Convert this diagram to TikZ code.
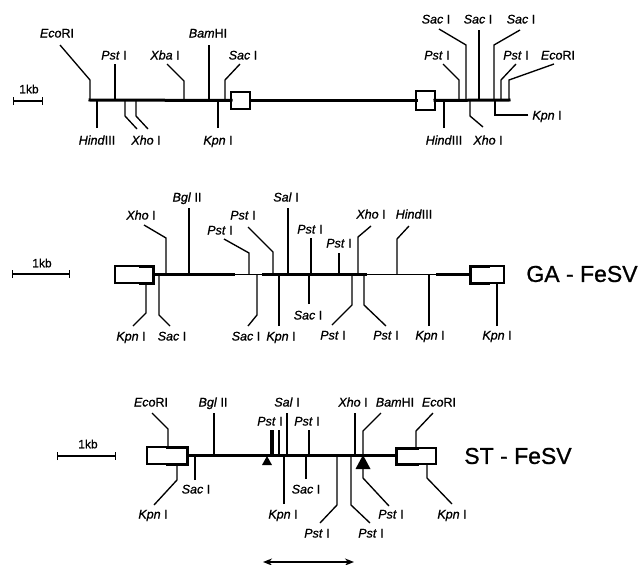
\documentclass[tikz,border=0pt]{standalone}
\usepackage{fontspec}
\setmainfont[FakeBold=0.9]{Liberation Sans}
\usepackage{tikz}
\usetikzlibrary{arrows.meta}

\begin{document}
\begin{tikzpicture}[
    x=1pt,y=-1pt,
    enzyme/.style={inner sep=0pt,outer sep=0pt,text height=9pt,text depth=0pt,font=\fontsize{12.5}{14}\selectfont},
    strain/.style={inner sep=0pt,outer sep=0pt,font=\fontsize{23}{26}\selectfont},
    kbtext/.style={inner sep=0pt,outer sep=0pt,font=\fontsize{12}{14}\selectfont},
    site/.style={line width=1.35pt,line join=miter},
    backbone/.style={line width=3pt,line cap=rect},
    thinbone/.style={line width=1.4pt},
    ltrbox/.style={rectangle,draw,line width=1.5pt,fill=white,inner sep=0pt,outer sep=0pt},
    scalebar/.style={{Bar[width=8pt,line width=1.2pt]}-{Bar[width=8pt,line width=1.2pt]},line width=1.3pt},
    spanarrow/.style={{Stealth[length=9pt,width=7pt]}-{Stealth[length=9pt,width=7pt]},line width=1.8pt}
]
\useasboundingbox (0,0) rectangle (641,565);

% first map
\coordinate (bbA) at (90,100);
\coordinate (endA) at (509,100);
\node[ltrbox,minimum width=19pt,minimum height=17pt] (boxA) at (240.5,100.5) {};
\node[ltrbox,minimum width=19pt,minimum height=19pt] (boxB) at (425.5,100.5) {};
\draw[backbone] (bbA) -- (boxA);
\draw[backbone] (boxA) -- (boxB);
\draw[backbone] (boxB) -- (endA);

\node[kbtext] (kbA) at (29,89) {1kb};
\coordinate (scaleAl) at (13,101);
\coordinate (scaleAr) at (43,101);
\draw[scalebar] (scaleAl) -- (scaleAr);

\node[enzyme] (ecoA) at (57,33) {\textit{Eco}RI};
\node[enzyme] (pstA) at (114,55) {\textit{Pst} I};
\node[enzyme] (xbaA) at (165,55) {\textit{Xba} I};
\node[enzyme] (bamA) at (208,33) {\textit{Bam}HI};
\node[enzyme] (sacA) at (243,55) {\textit{Sac} I};
\node[enzyme] (hinA) at (97,140) {\textit{Hind}III};
\node[enzyme] (xhoA) at (146,140) {\textit{Xho} I};
\node[enzyme] (kpnA) at (218,140) {\textit{Kpn} I};
\node[enzyme] (sacB) at (436,19) {\textit{Sac} I};
\node[enzyme] (sacC) at (478,19) {\textit{Sac} I};
\node[enzyme] (sacD) at (521,19) {\textit{Sac} I};
\node[enzyme] (pstB) at (437,55) {\textit{Pst} I};
\node[enzyme] (pstC) at (516,55) {\textit{Pst} I};
\node[enzyme] (ecoB) at (558,55) {\textit{Eco}RI};
\node[enzyme] (hinB) at (444,140) {\textit{Hind}III};
\node[enzyme] (xhoB) at (488,140) {\textit{Xho} I};
\node[enzyme] (kpnB) at (547,115) {\textit{Kpn} I};

\draw[site] ([shift={(3,7.5)}]ecoA.south) -- (90,80) -- (90,0 |- bbA);
\draw[site] ([shift={(1,4.5)}]pstA.south) -- (115,0 |- bbA);
\draw[site] ([shift={(2,4.5)}]xbaA.south) -- (184,81) -- (184,0 |- bbA);
\draw[site] ([shift={(1,7.5)}]bamA.south) -- (209,0 |- bbA);
\draw[site] ([shift={(-3,4.5)}]sacA.south) -- (225,80) -- (225,0 |- bbA);
\draw[site] ([shift={(0,-7.5)}]hinA.north) -- (97,0 |- bbA);
\draw[site] ([shift={(-9,-6.5)}]xhoA.north) -- (125,116) -- (125,0 |- bbA);
\draw[site] ([shift={(2,-6.5)}]xhoA.north) -- (136,116) -- (136,0 |- bbA);
\draw[site] ([shift={(0,-7.5)}]kpnA.north) -- (218,0 |- bbA);
\draw[site] ([shift={(3,5.5)}]sacB.south) -- (466,45) -- (466,0 |- bbA);
\draw[site] ([shift={(1,6.5)}]sacC.south) -- (479,0 |- bbA);
\draw[site] ([shift={(-1,6.5)}]sacD.south) -- (494,45) -- (494,0 |- bbA);
\draw[site] ([shift={(6,4.5)}]pstB.south) -- (459,80) -- (459,0 |- bbA);
\draw[site] ([shift={(0,4.5)}]pstC.south) -- (501,80) -- (501,0 |- bbA);
\draw[site] ([shift={(-4,4.5)}]ecoB.south) -- (509,80) -- (509,0 |- bbA);
\draw[site] ([shift={(0,-7.5)}]hinB.north) -- (444,0 |- bbA);
\draw[site] ([shift={(-5,-8.5)}]xhoB.north) -- (470,116) -- (470,0 |- bbA);
\draw[site] ([shift={(-4,0)}]kpnB.west) -- (495,115) -- (495,0 |- bbA);

% second map
\coordinate (bbB) at (0,274);
\node[ltrbox,minimum width=38pt,minimum height=17pt] (boxC) at (134,274.5) {};
\node[ltrbox,minimum width=34pt,minimum height=17pt] (boxD) at (487,274.5) {};
\draw[thinbone] (boxC.east) -- (boxD.west);
\draw[backbone] (boxC.east) -- (233,0 |- boxC.east);
\draw[backbone] (263,0 |- boxC.east) -- (365,0 |- boxC.east);
\draw[backbone] (437,0 |- boxD.west) -- (boxD.west);
\draw[backbone] ([xshift=-13pt]boxC.north east) -- (boxC.north east) -- (boxC.south east) -- ([xshift=-13pt]boxC.south east);
\draw[backbone] ([xshift=18pt]boxD.north west) -- (boxD.north west) -- (boxD.south west) -- ([xshift=18pt]boxD.south west);

\node[kbtext] (kbB) at (42,263) {1kb};
\coordinate (scaleBl) at (12,274);
\coordinate (scaleBr) at (70,274);
\draw[scalebar] (scaleBl) -- (scaleBr);
\node[strain] (fesvA) at (582,274) {GA - FeSV};

\node[enzyme] (xhoC) at (141,215) {\textit{Xho} I};
\node[enzyme] (bglA) at (187,197) {\textit{Bgl} II};
\node[enzyme] (pstD) at (243,215) {\textit{Pst} I};
\node[enzyme] (pstE) at (220,230) {\textit{Pst} I};
\node[enzyme] (salA) at (286,197) {\textit{Sal} I};
\node[enzyme] (pstF) at (310,229) {\textit{Pst} I};
\node[enzyme] (xhoD) at (371,214) {\textit{Xho} I};
\node[enzyme] (hinC) at (414,214) {\textit{Hind}III};
\node[enzyme] (pstG) at (339,243) {\textit{Pst} I};
\node[enzyme] (kpnC) at (131,336) {\textit{Kpn} I};
\node[enzyme] (sacE) at (172,336) {\textit{Sac} I};
\node[enzyme] (sacF) at (246,336) {\textit{Sac} I};
\node[enzyme] (kpnD) at (281,336) {\textit{Kpn} I};
\node[enzyme] (sacG) at (308,315) {\textit{Sac} I};
\node[enzyme] (pstH) at (333,335) {\textit{Pst} I};
\node[enzyme] (pstJ) at (386,335) {\textit{Pst} I};
\node[enzyme] (kpnE) at (430,335) {\textit{Kpn} I};
\node[enzyme] (kpnF) at (497,335) {\textit{Kpn} I};

\draw[site] ([shift={(3,5.5)}]xhoC.south) -- (166,238) -- (166,0 |- bbB);
\draw[site] ([shift={(2,6.5)}]bglA.south) -- (189,0 |- bbB);
\draw[site] ([shift={(5,7.5)}]pstD.south) -- (273,252) -- (273,0 |- bbB);
\draw[site] ([shift={(4,4.5)}]pstE.south) -- (249,253) -- (249,0 |- bbB);
\draw[site] ([shift={(2,6.5)}]salA.south) -- (288,0 |- bbB);
\draw[site] ([shift={(1,4.5)}]pstF.south) -- (311,0 |- bbB);
\draw[site] ([shift={(0,7.5)}]xhoD.south) -- (358,237) -- (358,0 |- bbB);
\draw[site] ([shift={(-5,7.5)}]hinC.south) -- (397,239) -- (397,0 |- bbB);
\draw[site] ([shift={(0,5.5)}]pstG.south) -- (339,0 |- bbB);
\draw[site] ([shift={(2,-5.5)}]kpnC.north) -- (146,313) -- (146,0 |- boxC.south);
\draw[site] ([shift={(-2,-5.5)}]sacE.north) -- (159,315) -- (159,0 |- bbB);
\draw[site] ([shift={(2,-5.5)}]sacF.north) -- (257,315) -- (257,0 |- bbB);
\draw[site] ([shift={(-2,-5.5)}]kpnD.north) -- (279,0 |- bbB);
\draw[site] ([shift={(1,-6.5)}]sacG.north) -- (309,0 |- bbB);
\draw[site] ([shift={(-1,-5.5)}]pstH.north) -- (352,305) -- (352,0 |- bbB);
\draw[site] ([shift={(0,-4.5)}]pstJ.north) -- (364,305) -- (364,0 |- bbB);
\draw[site] ([shift={(-1,-4.5)}]kpnE.north) -- (429,0 |- bbB);
\draw[site] ([shift={(0,-4.5)}]kpnF.north) -- (boxD.south -| kpnF);

% third map
\coordinate (bbC) at (0,455);
\node[ltrbox,minimum width=40pt,minimum height=17pt] (boxE) at (167,455.5) {};
\node[ltrbox,minimum width=40pt,minimum height=16pt] (boxF) at (416,456) {};
\draw[backbone] (boxE.east) -- (boxF.west |- boxE.east);
\draw[backbone] ([xshift=-20pt]boxE.north east) -- (boxE.north east) -- (boxE.south east) -- ([xshift=-20pt]boxE.south east);
\draw[backbone] ([xshift=21pt]boxF.north west) -- (boxF.north west) -- (boxF.south west) -- ([xshift=21pt]boxF.south west);
\fill (262,465) -- (267,456) -- (272,465) -- cycle;
\fill (355.5,469) -- (363,455) -- (370.5,469) -- cycle;

\node[kbtext] (kbC) at (88,444) {1kb};
\coordinate (scaleCl) at (57,456);
\coordinate (scaleCr) at (116,456);
\draw[scalebar] (scaleCl) -- (scaleCr);
\node[strain] (fesvB) at (518,456) {ST - FeSV};

\node[enzyme] (ecoC) at (151,402) {\textit{Eco}RI};
\node[enzyme] (bglB) at (213,402) {\textit{Bgl} II};
\node[enzyme] (salB) at (287,402) {\textit{Sal} I};
\node[enzyme] (pstK) at (270,421) {\textit{Pst} I};
\node[enzyme] (pstL) at (307,421) {\textit{Pst} I};
\node[enzyme] (xhoE) at (353,402) {\textit{Xho} I};
\node[enzyme] (bamB) at (395,402) {\textit{Bam}HI};
\node[enzyme] (ecoD) at (439,402) {\textit{Eco}RI};
\node[enzyme] (kpnG) at (153,514) {\textit{Kpn} I};
\node[enzyme] (sacH) at (196,489) {\textit{Sac} I};
\node[enzyme] (kpnH) at (283,514) {\textit{Kpn} I};
\node[enzyme] (sacJ) at (306,489) {\textit{Sac} I};
\node[enzyme] (pstM) at (317,533) {\textit{Pst} I};
\node[enzyme] (pstN) at (371,533) {\textit{Pst} I};
\node[enzyme] (pstP) at (391,514) {\textit{Pst} I};
\node[enzyme] (kpnJ) at (452,514) {\textit{Kpn} I};

\draw[site] ([shift={(1,6.5)}]ecoC.south) -- (168,429) -- (168,0 |- boxE.north);
\draw[site] ([shift={(1,6.5)}]bglB.south) -- (214,0 |- bbC);
\draw[site] ([shift={(0,6.5)}]salB.south) -- (287,0 |- bbC);
\draw[site,line width=3.6pt] ([shift={(2,4.5)}]pstK.south) -- (272,0 |- bbC);
\draw[site] ([shift={(9,4.5)}]pstK.south) -- (279,0 |- bbC);
\draw[site] ([shift={(2,4.5)}]pstL.south) -- (309,0 |- bbC);
\draw[site] ([shift={(2,6.5)}]xhoE.south) -- (355,0 |- bbC);
\draw[site] ([shift={(-14,6.5)}]bamB.south) -- (363,431) -- (363,0 |- bbC);
\draw[site] ([shift={(-6,6.5)}]ecoD.south) -- (416,431) -- (416,0 |- boxF.north);
\draw[site] ([shift={(1,-4.5)}]kpnG.north) -- (177,480) -- (177,0 |- boxE.south);
\draw[site] ([shift={(-1,-4.5)}]sacH.north) -- (195,0 |- bbC);
\draw[site] ([shift={(1,-5.5)}]kpnH.north) -- (284,0 |- bbC);
\draw[site] ([shift={(0,-5.5)}]sacJ.north) -- (306,0 |- bbC);
\draw[site] ([shift={(3,-5.5)}]pstM.north) -- (337,505) -- (337,0 |- bbC);
\draw[site] ([shift={(-1,-5.5)}]pstN.north) -- (351,505) -- (351,0 |- bbC);
\draw[site] ([shift={(-2,-3.5)}]pstP.north) -- (363,478) -- (363,0 |- bbC);
\draw[site] ([shift={(0,-5.5)}]kpnJ.north) -- (427,478) -- (427,0 |- boxF.south);

\coordinate (spanL) at (263,562);
\coordinate (spanR) at (354,562);
\draw[spanarrow] (spanL) -- (spanR);
\end{tikzpicture}
\end{document}
